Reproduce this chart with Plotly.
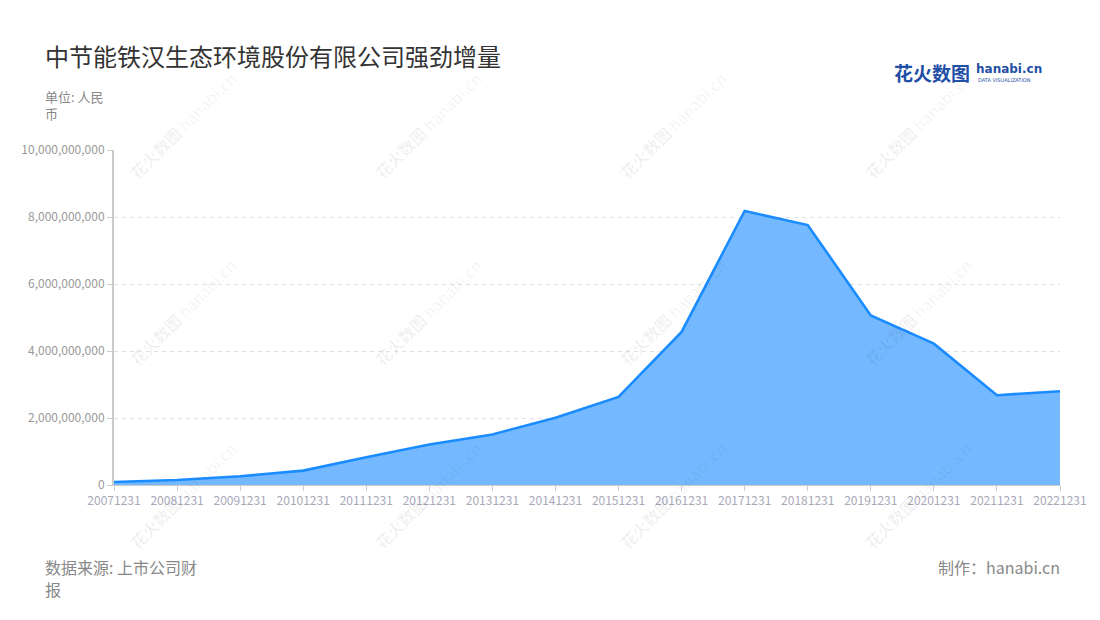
import plotly.graph_objects as go

categories = ["20071231", "20081231", "20091231", "20101231", "20111231", "20121231",
              "20131231", "20141231", "20151231", "20161231", "20171231", "20181231",
              "20191231", "20201231", "20211231", "20221231"]
values = [0.09e9, 0.15e9, 0.26e9, 0.43e9, 0.83e9, 1.21e9, 1.51e9, 2.01e9,
          2.63e9, 4.57e9, 8.18e9, 7.76e9, 5.06e9, 4.22e9, 2.68e9, 2.80e9]
y_ticks = [0, 2e9, 4e9, 6e9, 8e9, 10e9]

title = "中节能铁汉生态环境股份有限公司强劲增量"
unit = "单位: 人民<br>币"
source_lines = ["数据来源: 上市公司财", "报"]
credit = "制作：hanabi.cn"

FONT = "Noto Sans CJK SC, Noto Sans, sans-serif"

# page offset caused by the default body margin
OFF = 8
W, H = 1100 - OFF, 620 - OFF
L, R, T, B = 114 - OFF, 40, 150 - OFF, 135
pw, ph = W - L - R, H - T - B

fig = go.Figure()
fig.add_trace(go.Scatter(
    x=categories, y=values, mode="lines",
    line=dict(color="#1a8cff", width=2.6),
    fill="tozeroy", fillcolor="rgba(116,185,255,1)",
    hoverinfo="x+y",
))

fig.update_layout(
    width=W, height=H,
    margin=dict(l=L, r=R, t=T, b=B),
    paper_bgcolor="white", plot_bgcolor="white",
    showlegend=False,
    font=dict(family=FONT),
    xaxis=dict(
        type="category", range=[0, 15], showgrid=False,
        showline=True, linecolor="#cccccc", linewidth=1,
        ticks="outside", ticklen=5, tickcolor="#cccccc",
        tickfont=dict(size=12, color="#a8a8b8", family=FONT),
        zeroline=False, fixedrange=True,
    ),
    yaxis=dict(
        range=[0, 10e9], tickvals=y_ticks, tickformat=",",
        showgrid=True, gridcolor="#e0e0e0", griddash="4px,4px", gridwidth=1,
        showline=True, linecolor="#cccccc", linewidth=2,
        ticks="outside", ticklen=5, tickcolor="#cccccc",
        tickfont=dict(size=12, color="#999999", family=FONT),
        zeroline=False, fixedrange=True,
    ),
)


def page(px, py):
    """page pixel -> paper coords of the plot area"""
    return (px - OFF - L) / pw, 1 - (py - OFF - T) / ph


annotations = []


def add(text, px, py, xa, ya, font, **kw):
    x, y = page(px, py)
    d = dict(text=text, x=x, y=y, xref="paper", yref="paper", showarrow=False,
             xanchor=xa, yanchor=ya, font=font)
    d.update(kw)
    annotations.append(d)


# watermarks (drawn first, underneath)
for cx in [183, 428, 673, 918]:
    for cy in [125, 312, 495]:
        add("<b>花火数图</b> hanabi.cn", cx, cy, "center", "middle",
            dict(size=16, color="rgba(0,0,0,0.06)", family=FONT), textangle=-45)

add(title, 43, 55, "left", "middle", dict(size=24, color="#333333", family=FONT))
add(unit, 43, 85, "left", "top", dict(size=13, color="#888888", family=FONT), align="left")
add(source_lines[0], 43, 567, "left", "middle", dict(size=16, color="#888888", family=FONT))
add(source_lines[1], 43, 589, "left", "middle", dict(size=16, color="#888888", family=FONT))
add(credit, 1062, 567, "right", "middle", dict(size=16, color="#888888", family=FONT))
add("<b>花火数图</b>", 892, 72, "left", "middle", dict(size=19, color="#1f4fa6", family=FONT))
add("<b>hanabi.cn</b>", 974, 69, "left", "middle", dict(size=12, color="#1f4fa6", family="DejaVu Sans"))
add("DATA VISUALIZATION", 976, 80, "left", "middle", dict(size=5, color="#1f4fa6", family="DejaVu Sans"))

fig.update_layout(annotations=annotations)
fig.write_html("out.html")
